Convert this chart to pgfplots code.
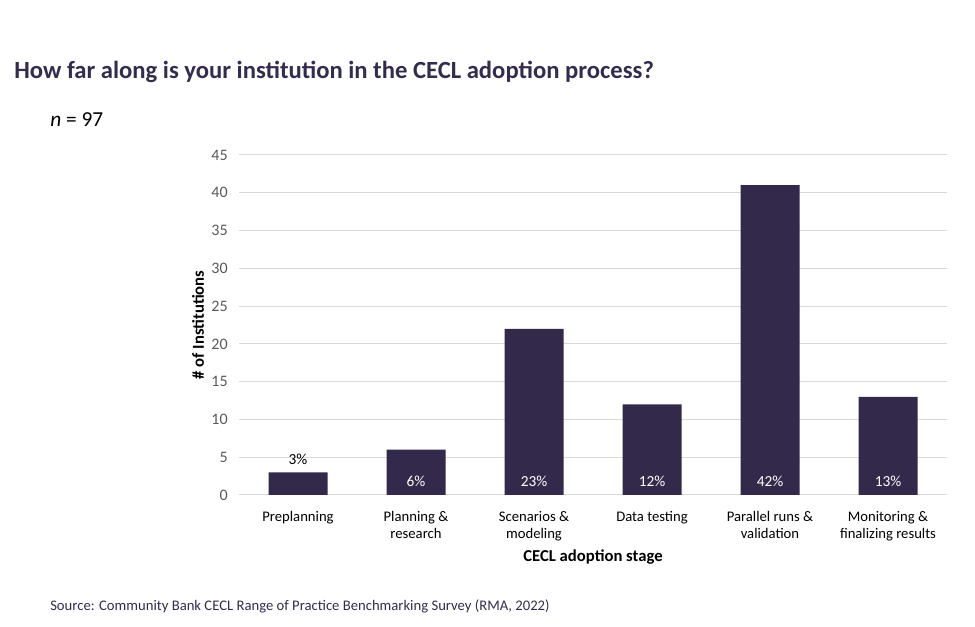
\documentclass[border=0pt]{standalone}
\usepackage{pgfplots}
\pgfplotsset{compat=1.18}
\usepackage{fontspec}
\setmainfont{Carlito}
\definecolor{barc}{HTML}{33294A}
\definecolor{titc}{HTML}{342C4E}
\definecolor{tickc}{HTML}{595959}
\definecolor{gridc}{HTML}{D9D9D9}
\begin{document}
\begin{tikzpicture}[x=0.75pt,y=0.75pt]
\useasboundingbox (0,0) rectangle (975,627);
\coordinate (O) at (239,132);
\node[anchor=west,text=titc,inner sep=0pt,font=\fontsize{18.5}{22}\selectfont\bfseries] at (14,555) {How far along is your institution in the CECL adoption process?};
\node[anchor=west,inner sep=0pt,font=\fontsize{16}{19}\selectfont] at (50,507) {\textit{n} = 97};
\node[anchor=west,text=titc,inner sep=0pt,font=\fontsize{11}{13}\selectfont] at (50,21) {Source: Community Bank CECL Range of Practice Benchmarking Survey (RMA, 2022)};
\begin{axis}[
  at={(O)}, anchor=south west,
  scale only axis, width=531pt, height=255pt,
  xmin=-0.5, xmax=5.5, ymin=0, ymax=45,
  xtick={0,1,2,3,4,5},
  xticklabels={Preplanning,Planning \&\\research,Scenarios \&\\modeling,Data testing,Parallel runs \&\\validation,Monitoring \&\\finalizing results},
  ytick={0,5,...,45},
  ymajorgrids, grid style={gridc, line width=0.75pt},
  axis x line*=bottom, axis y line*=left,
  x axis line style={gridc, line width=0.75pt, -},
  y axis line style={draw=none},
  major tick length=0pt,
  /pgf/number format/assume math mode=true,
  yticklabel style={font=\fontsize{12}{14}\selectfont, text=tickc, xshift=-5pt},
  xticklabel style={font=\fontsize{11}{12.8}\selectfont, align=center, text=black, yshift=-9pt},
  xlabel={CECL adoption stage},
  ylabel={\# of Institutions},
  every axis x label/.style={at={(axis description cs:0.5,0)}, anchor=center, yshift=-46.5pt, font=\fontsize{12.5}{15}\selectfont\bfseries},
  every axis y label/.style={at={(axis description cs:0,0.5)}, xshift=-30.75pt, anchor=center, rotate=90, font=\fontsize{12.5}{15}\selectfont\bfseries},
  clip=false,
]
\addplot[ybar, bar width=0.5, bar shift=0pt, fill=barc, draw=none] coordinates {(0,3) (1,6) (2,22) (3,12) (4,41) (5,13)};
\addplot[draw=none, mark=none, point meta=explicit symbolic, nodes near coords,
  every node near coord/.style={anchor=center, text=white, font=\fontsize{11.5}{14}\selectfont}]
  coordinates {(1,1.85)[6\%] (2,1.85)[23\%] (3,1.85)[12\%] (4,1.85)[42\%] (5,1.85)[13\%]};
\addplot[draw=none, mark=none, point meta=explicit symbolic, nodes near coords,
  every node near coord/.style={anchor=center, text=black, font=\fontsize{11.5}{14}\selectfont}]
  coordinates {(0,4.75)[3\%]};
\end{axis}
\end{tikzpicture}
\end{document}
